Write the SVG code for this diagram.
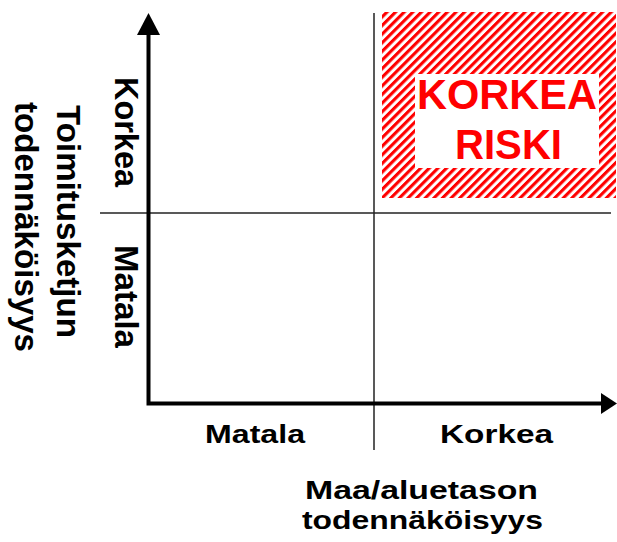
<svg xmlns="http://www.w3.org/2000/svg" width="617" height="542" viewBox="0 0 617 542">
  <style>
    .lbl { font-family: "Liberation Sans", Arial, sans-serif; font-weight: bold; fill: #000; text-anchor: middle; }
    .red { font-family: "Liberation Sans", Arial, sans-serif; font-weight: bold; fill: #ff0000; text-anchor: middle; }
    .thin { stroke: #222; stroke-width: 1.5; fill: none; }
    .axis { stroke: #000; stroke-width: 4; fill: none; }
  </style>
  <defs>
    <pattern id="hatch" patternUnits="userSpaceOnUse" width="6.1" height="6.1" patternTransform="rotate(45)">
      <rect x="0" y="0" width="3.1" height="6.1" fill="#ff0000"/>
    </pattern>
  </defs>
  <rect width="617" height="542" fill="#fff"/>

  <g id="risk-box">
    <rect x="382" y="12" width="234" height="186" fill="url(#hatch)"/>
    <rect x="415" y="74" width="184" height="94" fill="#fff"/>
    <text class="red" x="507" y="109" font-size="43" textLength="180" lengthAdjust="spacingAndGlyphs">KORKEA</text>
    <text class="red" x="508.5" y="159" font-size="43" textLength="107" lengthAdjust="spacingAndGlyphs">RISKI</text>
  </g>

  <g id="connectors">
    <line class="thin" x1="374" y1="13" x2="374" y2="450"/>
    <line class="thin" x1="100" y1="213" x2="611" y2="213"/>
    <polyline class="axis" points="148.5,34 148.5,403.5 602,403.5"/>
    <polygon points="148.5,13 137,35 160,35" fill="#000"/>
    <polygon points="617,403.5 601,393 601,414" fill="#000"/>
  </g>

  <g id="x-labels">
    <text class="lbl" x="255" y="443" font-size="26" textLength="100" lengthAdjust="spacingAndGlyphs">Matala</text>
    <text class="lbl" x="496.5" y="443" font-size="26" textLength="113" lengthAdjust="spacingAndGlyphs">Korkea</text>
    <text class="lbl" x="421.5" y="499" font-size="26" textLength="233" lengthAdjust="spacingAndGlyphs">Maa/aluetason</text>
    <text class="lbl" x="422.5" y="529" font-size="26" textLength="241" lengthAdjust="spacingAndGlyphs">todennäköisyys</text>
  </g>

  <g id="y-labels">
    <text class="lbl" transform="translate(115,132) rotate(90)" font-size="34" textLength="110" lengthAdjust="spacingAndGlyphs">Korkea</text>
    <text class="lbl" transform="translate(115,296.5) rotate(90)" font-size="34" textLength="103" lengthAdjust="spacingAndGlyphs">Matala</text>
    <text class="lbl" transform="translate(57,221.5) rotate(90)" font-size="33" textLength="233" lengthAdjust="spacingAndGlyphs">Toimitusketjun</text>
    <text class="lbl" transform="translate(15,227) rotate(90)" font-size="33" textLength="250" lengthAdjust="spacingAndGlyphs">todennäköisyys</text>
  </g>
</svg>
